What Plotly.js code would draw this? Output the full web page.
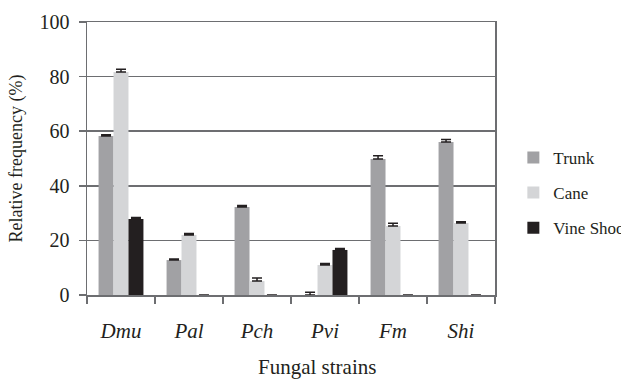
<!DOCTYPE html>
<html>
<head>
<meta charset="utf-8">
<script src="https://cdn.plot.ly/plotly-3.0.1.min.js"></script>
<style>
html,body{margin:0;padding:0;background:#fff;}
#chart{width:621px;height:382px;}
</style>
</head>
<body>
<div id="chart"></div>
<script>
var strains = ["Dmu", "Pal", "Pch", "Pvi", "Fm", "Shi"];
var trunk = [58.2, 12.8, 32.2, 0, 49.8, 56.0];
var trunkErr = [0.5, 0.4, 0.6, 1.0, 1.2, 1.0];
var cane = [81.7, 22.0, 5.1, 11.0, 25.3, 26.4];
var caneErr = [1.0, 0.5, 1.1, 0.5, 1.0, 0.4];
var vineShoot = [27.8, 0, 0, 16.5, 0, 0];
var vineShootErr = [0.6, 0, 0, 0.5, 0, 0];
var yTicks = [0, 20, 40, 60, 80, 100];

var labels = strains.map(function (s) { return "<i>" + s + "</i>"; });
var errColor = "#231f20";
function errBar(arr) {
  return {type: "data", symmetric: false, array: arr, arrayminus: arr.map(function () { return 0; }),
          color: errColor, thickness: 1.5, width: 5, visible: true};
}
var traces = [
  {type: "bar", name: "Trunk", x: labels, y: trunk, error_y: errBar(trunkErr),
   marker: {color: "#a1a1a4"}, legendgroup: "a"},
  {type: "bar", name: "Cane", x: labels, y: cane, error_y: errBar(caneErr),
   marker: {color: "#d4d5d7"}, legendgroup: "b"},
  {type: "bar", name: "Vine Shoot", x: labels, y: vineShoot, error_y: errBar(vineShootErr),
   marker: {color: "#231f20"}, legendgroup: "c"}
];
var axisCol = "#6d6e71";
var serif = "Liberation Serif";
var layout = {
  width: 621, height: 382,
  margin: {l: 87, r: 126, t: 22, b: 87, autoexpand: false},
  paper_bgcolor: "#fff", plot_bgcolor: "#fff",
  font: {family: serif, color: "#231f20", size: 18},
  barmode: "group", bargap: 0.34, bargroupgap: 0,
  showlegend: true,
  legend: {x: 1.045, xanchor: "left", y: 0.374, yanchor: "middle",
           font: {family: serif, size: 17, color: "#231f20"}, traceorder: "grouped", tracegroupgap: 10,
           bgcolor: "rgba(0,0,0,0)"},
  annotations: [{
    text: "Fungal strains", xref: "paper", yref: "paper", x: 0.564, y: -0.265,
    xanchor: "center", yanchor: "middle", showarrow: false,
    font: {family: serif, size: 21, color: "#231f20"}
  }],
  xaxis: {
    type: "category", tickson: "boundaries", ticks: "outside", ticklen: 7, tickwidth: 1.5, tickcolor: axisCol,
    showline: true, linecolor: axisCol, linewidth: 1.5, mirror: true,
    showgrid: false, zeroline: false, ticklabelstandoff: 16,
    tickfont: {family: serif, size: 21, color: "#231f20"}
  },
  yaxis: {
    range: [0, 100], tickvals: yTicks, ticktext: yTicks.map(String),
    ticks: "outside", ticklen: 7, tickwidth: 1.5, tickcolor: axisCol,
    showline: true, linecolor: axisCol, linewidth: 1.5, mirror: true,
    showgrid: true, gridcolor: axisCol, gridwidth: 1.5, zeroline: false,
    ticklabelstandoff: 5,
    tickfont: {family: serif, size: 20, color: "#231f20"},
    title: {text: "Relative frequency (%)", font: {family: serif, size: 18, color: "#231f20"}, standoff: 12}
  }
};
Plotly.newPlot("chart", traces, layout, {displayModeBar: false, staticPlot: true});
</script>
</body>
</html>
